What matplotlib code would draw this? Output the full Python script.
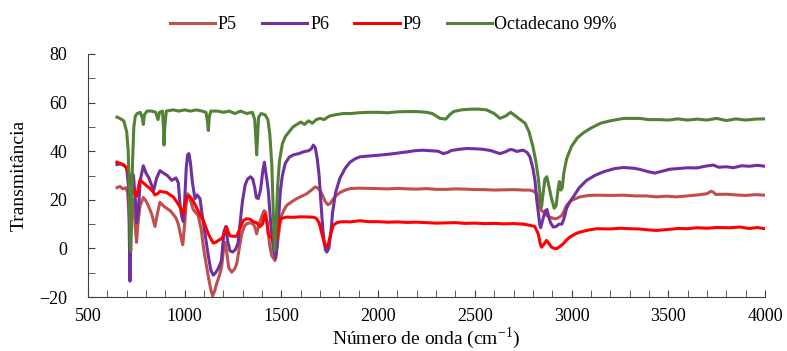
import numpy as np
import matplotlib
matplotlib.use('Agg')
from matplotlib import pyplot as plt
from matplotlib.ticker import MultipleLocator

# wavenumber (cm-1) / transmittance pairs
oct_wn = [650, 665, 685, 700, 708, 713, 718, 721, 725, 730, 737, 745, 755, 770, 780, 786, 792, 805, 830, 850,
          862, 870, 885, 890, 893, 897, 905, 940, 970, 1000, 1030, 1060, 1090, 1110, 1118, 1122, 1127, 1135, 1170, 1200,
          1230, 1260, 1290, 1320, 1350, 1362, 1368, 1372, 1376, 1382, 1395, 1415, 1430, 1440, 1450, 1458, 1465, 1472, 1480, 1490,
          1505, 1520, 1540, 1560, 1580, 1600, 1620, 1640, 1660, 1680, 1700, 1720, 1750, 1780, 1820, 1860, 1900, 1950, 2000, 2050,
          2100, 2150, 2200, 2250, 2280, 2300, 2320, 2350, 2370, 2390, 2430, 2480, 2520, 2560, 2600, 2630, 2660, 2685, 2710, 2735,
          2760, 2780, 2800, 2815, 2828, 2838, 2845, 2852, 2862, 2872, 2882, 2895, 2910, 2920, 2930, 2937, 2945, 2952, 2960, 2975,
          3000, 3030, 3060, 3100, 3150, 3200, 3270, 3350, 3400, 3450, 3500, 3550, 3600, 3650, 3700, 3750, 3800, 3850, 3900, 3950, 4000]
oct_t = [54.0, 53.5, 52.5, 48, 40, 25, 5, -1, 10, 35, 50, 54.5, 55.5, 56, 54, 51, 55, 56.5, 56.5, 56,
         53, 56, 56.5, 50, 42.5, 50, 56.5, 57, 56.5, 57, 56.5, 57, 56.5, 56, 52, 48.5, 54, 56.5, 56.5, 56,
         56.5, 55.5, 56.5, 55.5, 56, 53, 45, 38.5, 45, 54, 55.5, 55, 53, 47, 35, 15, -1, 8, 25, 36,
         43, 46, 48, 50, 51, 52, 51, 52.5, 51.5, 53, 53.5, 53, 54.5, 55, 55.5, 55.5, 55.8, 56, 56, 55.8,
         56.2, 56.3, 56.3, 56, 55.5, 54.5, 53.5, 53.2, 55, 56.3, 57, 57.3, 57.3, 57, 55.5, 53.5, 54.5, 56, 54.5, 53,
         51.5, 48, 42, 36, 29, 21, 17, 22, 28.5, 29.5, 26, 21, 16.5, 17.5, 24, 27.5, 24, 25, 31, 37,
         42, 45.5, 47.5, 49.5, 51.5, 52.5, 53.5, 53.5, 53, 53, 52.8, 53.3, 52.8, 53.2, 52.8, 53.5, 52.6, 53.3, 52.8, 53.2, 53.3]

p6_wn = [650, 670, 690, 700, 710, 717, 722, 727, 735, 745, 752, 760, 770, 786, 800, 815, 829, 840, 855, 872,
         890, 910, 933, 955, 967, 976, 985, 993, 1000, 1008, 1015, 1022, 1030, 1040, 1053, 1065, 1079, 1090, 1105, 1120,
         1135, 1148, 1160, 1175, 1190, 1203, 1213, 1222, 1234, 1248, 1262, 1275, 1286, 1298, 1312, 1325, 1340, 1352, 1362, 1370,
         1380, 1392, 1404, 1412, 1420, 1432, 1445, 1458, 1470, 1478, 1486, 1495, 1505, 1520, 1540, 1562, 1590, 1613, 1640, 1655,
         1665, 1675, 1685, 1695, 1705, 1715, 1727, 1735, 1745, 1755, 1765, 1780, 1803, 1830, 1855, 1880, 1906, 1950, 2010, 2060,
         2100, 2148, 2190, 2230, 2270, 2310, 2337, 2360, 2380, 2420, 2460, 2500, 2540, 2580, 2630, 2660, 2682, 2700, 2716, 2735,
         2751, 2770, 2785, 2800, 2811, 2820, 2828, 2835, 2840, 2847, 2855, 2865, 2873, 2882, 2892, 2905, 2920, 2935, 2950, 2960,
         2974, 2990, 3009, 3040, 3078, 3120, 3164, 3220, 3268, 3320, 3354, 3400, 3431, 3470, 3509, 3560, 3600, 3647, 3690, 3733,
         3760, 3800, 3836, 3880, 3920, 3960, 4000]
p6_t = [34.5, 34.8, 34, 33, 25, -13.5, 10, 31, 30, 20, 10.5, 15, 28, 34, 31, 29, 26, 24, 29, 32,
        31, 30, 28, 29, 27, 18, 13, 11, 20, 33, 38.5, 39, 35, 27, 20.5, 22, 20.5, 14, 6, -2,
        -9, -11, -10, -8, -5, 7, 9, 3, -1, -1.5, -0.5, 2, 10, 19, 26, 28.5, 29.5, 28.5, 25, 21,
        20.5, 24, 32, 35.5, 31, 24, 10, 0, -4, 2, 13, 24, 30, 35, 37.5, 38.5, 39, 39.7, 40.2, 41,
        42.5, 41.5, 37, 30, 18, 7, -0.5, -1.5, 0, 6, 15, 23, 29, 33, 35.5, 36.8, 37.7, 38, 38.4, 38.8,
        39.2, 39.7, 40.2, 40.4, 40.2, 40, 39, 39.5, 40.3, 40.8, 41.1, 41, 40.8, 40.3, 39, 39.8, 40.7, 40.5, 39.9, 40.2,
        40.4, 39.5, 37.7, 33, 28, 20, 15, 10, 8.5, 10.5, 13, 15.5, 16, 13, 10.5, 8.8, 9, 10, 10, 12,
        16.4, 19, 21.2, 25, 28, 30, 31.5, 32.8, 33.3, 33, 32.5, 31.5, 31, 31.8, 32.6, 32.9, 33.2, 33.1, 33.8, 34.3,
        33.4, 33.6, 33.2, 34, 33.8, 34.2, 33.8]

p5_wn = [650, 665, 680, 695, 705, 712, 718, 725, 735, 745, 751, 758, 769, 786, 800, 815, 830, 846, 858, 872,
         890, 907, 925, 941, 955, 967, 980, 990, 1000, 1008, 1015, 1025, 1044, 1060, 1070, 1085, 1096, 1110, 1122, 1135,
         1144, 1155, 1165, 1180, 1191, 1200, 1208, 1216, 1228, 1243, 1258, 1269, 1282, 1295, 1308, 1320, 1340, 1355, 1364, 1372,
         1385, 1398, 1410, 1418, 1428, 1440, 1450, 1467, 1476, 1484, 1493, 1501, 1515, 1527, 1550, 1579, 1600, 1631, 1655, 1674,
         1685, 1699, 1712, 1725, 1740, 1751, 1765, 1780, 1803, 1830, 1855, 1900, 1950, 2000, 2050, 2100, 2150, 2200, 2250, 2300,
         2350, 2400, 2450, 2500, 2550, 2600, 2650, 2700, 2750, 2785, 2805, 2819, 2830, 2838, 2845, 2855, 2871, 2890, 2914, 2930,
         2949, 2962, 2974, 3000, 3043, 3090, 3130, 3200, 3270, 3330, 3388, 3440, 3490, 3544, 3600, 3650, 3700, 3720, 3733, 3745,
         3800, 3850, 3900, 3950, 4000]
p5_t = [25, 25.5, 24.5, 25, 23, 15, 8, 15, 20, 8, 2.5, 10, 17.5, 21, 19.5, 17, 14, 9, 14, 19,
        17.5, 16.5, 15.5, 14, 12.5, 10, 5, 1.5, 10, 19, 22.5, 21, 16, 14.5, 13.5, 8, 1, -6, -11.5, -17,
        -19.5, -17.5, -14.5, -11, -7.5, -1, 2.5, -1, -8, -9.8, -8.5, -6.3, 0, 6, 9, 10.2, 10.5, 10, 8.5, 6,
        10, 13, 15.5, 15, 9, 1, -3, -5, -1, 5, 10, 13.6, 16, 17.7, 19, 20.5, 21.3, 22.5, 24, 25.3,
        25, 24, 22, 19.5, 18, 18.4, 20, 21.5, 23, 24, 24.6, 24.8, 24.7, 24.6, 24.5, 24.7, 24.5, 24.4, 24.6, 24.3,
        24.3, 24.5, 24.4, 24.2, 24.2, 24, 24.1, 24.2, 24, 24, 23.5, 22.5, 20, 17, 15.5, 15, 13.6, 12.8, 12.2, 12.5,
        13.5, 15.5, 17.7, 19.8, 21.2, 21.8, 21.9, 21.8, 21.9, 21.6, 21.6, 21.2, 21.5, 21.2, 21.6, 22, 22.5, 23.5, 23.2, 22.2,
        22.3, 22, 21.8, 22.1, 21.9]

p9_wn = [650, 665, 682, 700, 712, 722, 734, 745, 752, 760, 769, 786, 800, 821, 835, 846, 860, 872, 890, 907,
         925, 941, 960, 976, 985, 993, 1003, 1013, 1025, 1044, 1060, 1070, 1085, 1096, 1110, 1122, 1135, 1148, 1160, 1174,
         1191, 1205, 1217, 1226, 1234, 1250, 1269, 1285, 1303, 1320, 1338, 1355, 1372, 1390, 1402, 1415, 1425, 1432, 1445, 1458,
         1468, 1478, 1488, 1493, 1527, 1560, 1600, 1648, 1670, 1682, 1695, 1708, 1722, 1734, 1745, 1755, 1768, 1785, 1803, 1830,
         1855, 1906, 1950, 2000, 2050, 2100, 2150, 2200, 2250, 2300, 2350, 2400, 2450, 2500, 2550, 2600, 2650, 2700, 2750, 2785,
         2810, 2828, 2838, 2845, 2855, 2871, 2885, 2897, 2910, 2923, 2940, 2957, 2975, 2992, 3020, 3043, 3090, 3130, 3200, 3250,
         3302, 3350, 3400, 3440, 3500, 3550, 3600, 3647, 3700, 3750, 3819, 3870, 3920, 3960, 4000]
p9_t = [35.5, 35, 34.5, 33, 30, 28, 24, 22, 21.5, 25, 28, 27, 26, 24.6, 23.5, 22, 22.5, 23.5, 23.2, 23,
        22, 21.2, 19, 17, 15.5, 14.3, 18, 21.5, 21.5, 19.5, 17, 15.5, 13, 11.5, 8.5, 6, 4, 2.2, 2.5, 3.3,
        4, 6, 8.8, 6.5, 5.2, 5, 5, 8, 11.5, 12.2, 12, 11, 10.5, 9, 10, 14, 11, 6, 4.5, 4,
        3.5, 5, 10, 12.2, 12.9, 12.8, 13, 12.9, 12.8, 12.2, 10.5, 6.5, 2, 0.5, 2.5, 6, 9.5, 10.5, 10.9, 11,
        10.9, 11.4, 11, 11, 10.8, 10.9, 10.7, 10.8, 10.6, 10.4, 10.5, 10.6, 10.3, 10.4, 10.2, 10.3, 10.1, 10.2, 10, 9.5,
        9, 6, 2, 0.5, 1.5, 3.3, 1.8, 0.5, 0, -0.1, 0.8, 1.9, 3.5, 4.7, 6, 6.7, 7.6, 8.1, 8, 8.3,
        8.1, 8, 7.6, 7.4, 7.8, 8.2, 8.1, 8.5, 8.3, 8.6, 8.5, 8.8, 8.2, 8.6, 8.1]

plt.rcParams['font.family'] = ['Liberation Serif', 'DejaVu Serif']
plt.rcParams['mathtext.fontset'] = 'custom'
plt.rcParams['mathtext.rm'] = 'Liberation Serif'

fig = plt.figure(figsize=(7.87, 3.51), dpi=100)
ax = fig.add_axes([0.1118, 0.1538, 0.8602, 0.6924])

lw = 2.2
ax.plot(p5_wn, p5_t, color='#C0504D', lw=lw, label='P5')
ax.plot(p6_wn, p6_t, color='#7030A0', lw=lw, label='P6')
ax.plot(p9_wn, p9_t, color='#FF0000', lw=lw, label='P9')
ax.plot(oct_wn, oct_t, color='#538135', lw=lw, label='Octadecano 99%')

ax.set_xlim(500, 4000)
ax.set_ylim(-20, 80)
ax.xaxis.set_major_locator(MultipleLocator(500))
ax.xaxis.set_minor_locator(MultipleLocator(100))
ax.yaxis.set_major_locator(MultipleLocator(20))
ax.yaxis.set_minor_locator(MultipleLocator(10))
ax.tick_params(axis='both', which='both', direction='in', labelsize=13, color='#404040')
ax.tick_params(axis='x', which='major', length=5, pad=8)
ax.tick_params(axis='y', which='major', length=5, pad=15)
ax.tick_params(axis='both', which='minor', length=5)
for s in ['top', 'right']:
    ax.spines[s].set_visible(False)
for s in ['left', 'bottom']:
    ax.spines[s].set_color('#404040')

ax.set_xlabel('Número de onda (cm$^{-1}$)', fontsize=14, labelpad=0)
ax.set_ylabel('Transmitância', fontsize=14, labelpad=8)

fig.legend(loc='upper center', bbox_to_anchor=(0.5, 1.0), ncol=4, frameon=False, fontsize=13,
           handlelength=2.5, handletextpad=0.15, columnspacing=1.4)

fig.savefig('out.png', dpi=100)
